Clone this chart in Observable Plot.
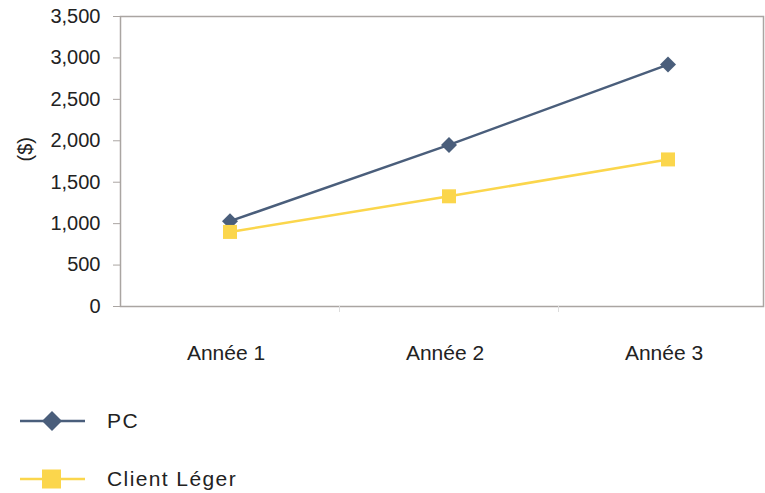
<!DOCTYPE html>
<html>
<head>
<meta charset="utf-8">
<script src="https://cdn.jsdelivr.net/npm/d3@7"></script>
<script src="https://cdn.jsdelivr.net/npm/@observablehq/plot@0.6"></script>
<style>
  html, body { margin: 0; padding: 0; background: #fff; }
  body { width: 765px; height: 493px; overflow: hidden; font-family: "Liberation Sans", Arial, sans-serif; }
  #chart svg { display: block; }
  .legend { position: relative; height: 113px; }
  .legend .item { position: absolute; left: 0; display: flex; align-items: center; }
  .legend .item span { font-size: 21px; color: #222; margin-left: 20px; letter-spacing: 1.4px; }
</style>
</head>
<body>
<div id="chart"></div>
<div class="legend" id="legend"></div>
<script>
// Coût cumulé par poste de travail, en dollars
const years = ["Année 1", "Année 2", "Année 3"];
const pcCost = [1030, 1950, 2920];
const thinClientCost = [900, 1330, 1775];
const seriesNames = ["PC", "Client Léger"];
const yTicks = [0, 500, 1000, 1500, 2000, 2500, 3000, 3500];

const pcColor = "#4a5e7b";
const tcColor = "#fbd64c";
const frameColor = "#aaa5a2";

const pcData = years.map((year, i) => ({year, value: pcCost[i], series: seriesNames[0]}));
const tcData = years.map((year, i) => ({year, value: thinClientCost[i], series: seriesNames[1]}));

const bandHalf = (777 - 120) / years.length / 2;

const chart = Plot.plot({
  width: 765,
  height: 380,
  marginLeft: 120,
  marginRight: 2,
  marginTop: 16,
  marginBottom: 74,
  style: {fontFamily: "Liberation Sans, Arial, sans-serif", color: "#222", background: "#fff"},
  x: {type: "band", domain: years, range: [120, 777], padding: 0},
  y: {domain: [0, 3500]},
  marks: [
    Plot.frame({stroke: frameColor, strokeWidth: 1.5}),
    Plot.axisY({
      ticks: yTicks,
      tickFormat: d3.format(","),
      tickSize: 7,
      tickPadding: 13,
      fontSize: 20,
      stroke: frameColor,
      label: null
    }),
    Plot.axisX({
      tickSize: 0,
      tickPadding: 39,
      fontSize: 21,
      dx: -4,
      label: null,
      letterSpacing: 1.5
    }),
    // category boundary ticks under the bottom edge
    Plot.ruleX(years.slice(1), {x: d => d, y1: 0, y2: 0, insetBottom: -6, dx: -bandHalf, stroke: "#ddd"}),
    Plot.text(["($)"], {frameAnchor: "left", rotate: -90, dx: -95, fontSize: 20, fill: "#222"}),
    Plot.line(pcData, {x: "year", y: "value", stroke: pcColor, strokeWidth: 2.5}),
    Plot.line(tcData, {x: "year", y: "value", stroke: tcColor, strokeWidth: 2.5}),
    Plot.dot(pcData, {x: "year", y: "value", symbol: "diamond2", r: 7.2, fill: pcColor, stroke: "none"}),
    Plot.dot(tcData, {x: "year", y: "value", symbol: "square", r: 7.9, fill: tcColor, stroke: "none"})
  ]
});
document.getElementById("chart").appendChild(chart);

// Légende sous le graphique
const legendItems = [
  {name: seriesNames[0], color: pcColor, shape: "diamond", top: 41},
  {name: seriesNames[1], color: tcColor, shape: "square", top: 99}
];
const legend = document.getElementById("legend");
for (const item of legendItems) {
  const div = document.createElement("div");
  div.className = "item";
  div.style.top = (item.top - 14) + "px";
  const glyph = item.shape === "diamond"
    ? `<polygon points="52,4 62,14 52,24 42,14" fill="${item.color}"/>`
    : `<rect x="42" y="4.5" width="19" height="19" fill="${item.color}"/>`;
  div.innerHTML = `<svg width="87" height="28"><line x1="20" x2="85" y1="14" y2="14" stroke="${item.color}" stroke-width="2.5"/>${glyph}</svg><span>${item.name}</span>`;
  legend.appendChild(div);
}
</script>
</body>
</html>
